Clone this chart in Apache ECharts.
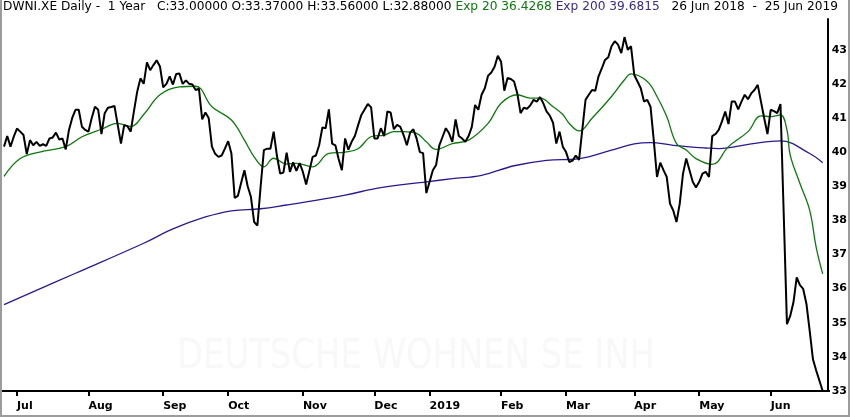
<!DOCTYPE html>
<html>
<head>
<meta charset="utf-8">
<script src="https://cdn.jsdelivr.net/npm/echarts@6/dist/echarts.min.js"></script>
<style>
  html, body { margin: 0; padding: 0; background: #fff; }
  #chart { width: 850px; height: 417px; }
</style>
</head>
<body>
<div id="chart"></div>
<script>
// trading calendar (Xetra), 26 Jun 2018 - 25 Jun 2019
const firstDay = '2018-06-26';
const lastDay = '2019-06-25';
const holidays = ['2018-12-24', '2018-12-25', '2018-12-26', '2018-12-31',
  '2019-01-01', '2019-04-19', '2019-04-22', '2019-05-01'];
const monthNames = ['Jan', 'Feb', 'Mar', 'Apr', 'May', 'Jun',
  'Jul', 'Aug', 'Sep', 'Oct', 'Nov', 'Dec'];
const yTicks = [33, 34, 35, 36, 37, 38, 39, 40, 41, 42, 43];

// daily close
const closes = [
  40.16, 40.47, 40.16, 40.45, 40.69, 40.6, 40.5, 39.94, 40.35, 40.2,
  40.3, 40.18, 40.23, 40.18, 40.4, 40.43, 40.57, 40.37, 40.4, 40.08,
  40.65, 41.0, 41.24, 41.24, 40.74, 40.65, 40.6, 41.0, 41.33, 41.24,
  40.53, 41.14, 41.3, 41.32, 41.35, 40.8, 40.25, 40.79, 40.76, 40.6,
  41.2, 41.77, 42.16, 42.0, 42.63, 42.4, 42.55, 42.69, 42.51, 41.9,
  42.0, 42.22, 41.98, 42.29, 42.3, 42.0, 42.1, 42.0, 41.98, 41.82,
  41.86, 40.96, 41.16, 41.0, 40.16, 39.95, 39.86, 39.9, 40.1, 40.32,
  39.96, 38.66, 38.72, 39.1, 39.47, 39.0, 38.69, 37.95, 37.85, 39.0,
  40.06, 40.1, 40.1, 40.6, 39.9, 39.37, 39.4, 39.98, 39.42, 39.7,
  39.45, 39.68, 39.42, 39.05, 39.45, 39.86, 39.9, 40.2, 40.72, 40.7,
  41.25, 40.25, 40.2, 39.8, 39.47, 40.4, 40.07, 40.3, 40.47, 40.79,
  41.09, 41.25, 41.41, 41.31, 40.4, 40.4, 40.7, 40.47, 41.19, 41.16,
  40.67, 40.8, 40.74, 40.5, 40.2, 40.57, 40.67, 40.4, 40.0, 39.97,
  38.8, 39.13, 39.47, 39.62, 40.2, 40.45, 40.7, 40.55, 40.3, 40.96,
  40.47, 40.4, 40.3, 40.47, 40.74, 41.38, 41.24, 41.68, 41.87, 42.24,
  42.33, 42.5, 42.82, 42.65, 41.8, 42.17, 42.14, 42.07, 41.72, 41.14,
  41.3, 41.27, 41.37, 41.53, 41.48, 41.61, 41.43, 41.19, 41.07, 40.86,
  40.25, 40.6, 40.16, 40.0, 39.71, 39.75, 39.9, 39.77, 40.65, 41.53,
  41.68, 41.82, 41.8, 42.22, 42.45, 42.7, 42.78, 43.1, 43.25, 43.15,
  42.9, 43.37, 43.0, 43.1, 42.26, 42.07, 41.87, 41.48, 41.53, 41.33,
  40.35, 39.27, 39.69, 39.47, 39.27, 38.49, 38.29, 37.95, 38.49, 39.37,
  39.81, 39.47, 39.13, 38.96, 39.13, 39.37, 39.42, 39.27, 40.47, 40.53,
  40.65, 40.9, 41.19, 40.82, 41.48, 41.48, 41.25, 41.48, 41.68, 41.55,
  41.72, 41.82, 41.97, 41.48, 40.99, 40.53, 41.24, 41.2, 41.14, 41.41,
  38.2, 34.96, 35.2, 35.6, 36.33, 36.1, 35.99, 35.55, 34.76, 33.93,
  33.6, 33.3, 33.0
];

// Exp 20 (trading-day index -> value)
const ema20Day = [0, 5, 11, 19, 24, 30, 35, 39, 43, 48, 54, 59, 64, 70, 74, 77, 80, 83, 87,
  90, 95, 100, 105, 109, 113, 117, 120, 123, 127, 130, 133, 138, 143, 149, 153, 158,
  162, 165, 169, 172, 174, 177, 181, 187, 191, 193, 198, 201, 204, 207, 210, 213,
  218, 223, 229, 233, 236, 239, 241, 242, 245, 248, 250, 252];
const ema20Val = [39.29, 39.81, 40.0, 40.16, 40.45, 40.67, 40.84, 40.75, 41.1, 41.68, 41.91,
  41.93, 41.33, 40.94, 40.35, 39.86, 39.57, 39.82, 39.65, 39.67, 39.57, 39.96, 40.0,
  40.1, 40.45, 40.5, 40.6, 40.6, 40.55, 40.3, 40.08, 40.25, 40.35, 40.84, 41.43,
  41.68, 41.58, 41.58, 41.33, 41.1, 40.84, 40.62, 40.99, 41.63, 42.12, 42.29, 42.07,
  41.63, 41.04, 40.25, 40.06, 39.81, 39.64, 40.16, 40.6, 41.06, 41.04, 41.09, 40.65,
  39.91, 39.08, 38.29, 37.21, 36.43];

// Exp 200
const ema200Day = [0, 22, 43, 52, 62, 70, 79, 87, 95, 105, 116, 130, 138, 147, 157, 167,
  177, 187, 194, 199, 206, 216, 220, 230, 239, 248, 252];
const ema200Val = [35.53, 36.45, 37.33, 37.75, 38.1, 38.28, 38.34, 38.45, 38.57, 38.74,
  38.96, 39.13, 39.22, 39.32, 39.6, 39.76, 39.81, 40.06, 40.24, 40.28, 40.2, 40.12,
  40.1, 40.24, 40.33, 39.96, 39.69];

const titleMain = 'DWNI.XE Daily -  1 Year   C:33.00000 O:33.37000 H:33.56000 L:32.88000 ';
const titleEma20 = 'Exp 20 36.4268 ';
const titleEma200 = 'Exp 200 39.6815';
const titleRange = '   26 Jun 2018  -  25 Jun 2019';
const watermark = 'DEUTSCHE WOHNEN SE INH';

function pad(n) { return (n < 10 ? '0' : '') + n; }

const dates = [];
{
  const d = new Date(firstDay + 'T00:00:00Z');
  const end = new Date(lastDay + 'T00:00:00Z');
  while (d <= end) {
    const s = d.getUTCFullYear() + '-' + pad(d.getUTCMonth() + 1) + '-' + pad(d.getUTCDate());
    const wd = d.getUTCDay();
    if (wd !== 0 && wd !== 6 && holidays.indexOf(s) < 0) dates.push(s);
    d.setUTCDate(d.getUTCDate() + 1);
  }
}

// first trading day of each month gets a tick
const monthStart = dates.map((s, i) => i > 0 && s.slice(5, 7) !== dates[i - 1].slice(5, 7));

const measure = (text, font) => {
  const ctx = document.createElement('canvas').getContext('2d');
  ctx.font = font;
  return ctx.measureText(text).width;
};

const titleFont = '12px "DejaVu Sans"';
const titleW = measure(titleMain + titleEma20 + titleEma200 + titleRange, titleFont);
const wmFont = '40px "DejaVu Sans"';
const wmW = measure(watermark, wmFont);

const chart = echarts.init(document.getElementById('chart'));

const option = {
  animation: false,
  backgroundColor: '#fff',
  grid: { left: 4, right: 26, top: 19, bottom: 26 },
  xAxis: {
    type: 'category',
    data: dates,
    boundaryGap: false,
    axisLine: { lineStyle: { color: '#000', width: 2 } },
    axisTick: {
      show: true,
      interval: (i) => monthStart[i],
      length: 5,
      lineStyle: { color: '#000', width: 2 }
    },
    axisLabel: {
      interval: (i) => monthStart[i],
      formatter: (v) => {
        const m = +v.slice(5, 7) - 1;
        return m === 0 ? v.slice(0, 4) : monthNames[m];
      },
      align: 'left',
      margin: 10,
      color: '#000',
      fontFamily: 'DejaVu Sans',
      fontWeight: 'bold',
      fontSize: 11
    },
    splitLine: { show: false }
  },
  yAxis: {
    type: 'value',
    position: 'right',
    offset: 5,
    min: 33,
    max: 43.9,
    interval: 1,
    axisLine: { show: true, lineStyle: { color: '#000', width: 2 } },
    axisTick: { show: false },
    splitLine: { show: false },
    axisLabel: {
      margin: 4,
      color: '#000',
      fontFamily: 'DejaVu Sans',
      fontWeight: 'bold',
      fontSize: 11,
      formatter: (v) => (yTicks.indexOf(v) >= 0 ? String(v) : '')
    }
  },
  graphic: [
    {
      type: 'text', x: 416, y: 358, scaleX: 478 / wmW, z: 0, silent: true,
      style: {
        text: watermark, font: wmFont, fill: '#f8f8f8',
        textAlign: 'center', textVerticalAlign: 'middle',
        align: 'center', verticalAlign: 'middle'
      }
    },
    {
      type: 'text', x: 3, y: 1, scaleX: 835 / titleW, z: 10,
      style: {
        text: '{k|' + titleMain + '}{g|' + titleEma20 + '}{p|' + titleEma200 + '}{k|' + titleRange + '}',
        font: titleFont,
        fill: '#000',
        rich: {
          k: { fill: '#000', fontFamily: 'DejaVu Sans', fontSize: 12 },
          g: { fill: '#0b7a0b', fontFamily: 'DejaVu Sans', fontSize: 12 },
          p: { fill: '#3a2a8c', fontFamily: 'DejaVu Sans', fontSize: 12 }
        }
      }
    },
    {
      type: 'line', z: 10, silent: true,
      shape: { x1: 2, y1: 391, x2: 830, y2: 391 },
      style: { stroke: '#000', lineWidth: 2 }
    },
    {
      type: 'polyline', z: 10, silent: true,
      shape: { points: [[1, 0], [1, 416], [849, 416], [849, 0]] },
      style: { stroke: '#9c9c9c', lineWidth: 2, fill: null }
    }
  ],
  series: [
    {
      name: 'Exp 200',
      type: 'line',
      data: ema200Day.map((d, i) => [d, ema200Val[i]]),
      smooth: 0.4,
      showSymbol: false,
      symbol: 'none',
      lineStyle: { color: '#2b1a8e', width: 1.3 },
      z: 2
    },
    {
      name: 'Exp 20',
      type: 'line',
      data: ema20Day.map((d, i) => [d, ema20Val[i]]),
      smooth: 0.4,
      showSymbol: false,
      symbol: 'none',
      lineStyle: { color: '#0b7a0b', width: 1.3 },
      z: 3
    },
    {
      name: 'DWNI.XE',
      type: 'line',
      data: closes,
      showSymbol: false,
      symbol: 'none',
      lineStyle: { color: '#000', width: 2 },
      z: 4
    }
  ]
};

chart.setOption(option);
</script>
</body>
</html>
